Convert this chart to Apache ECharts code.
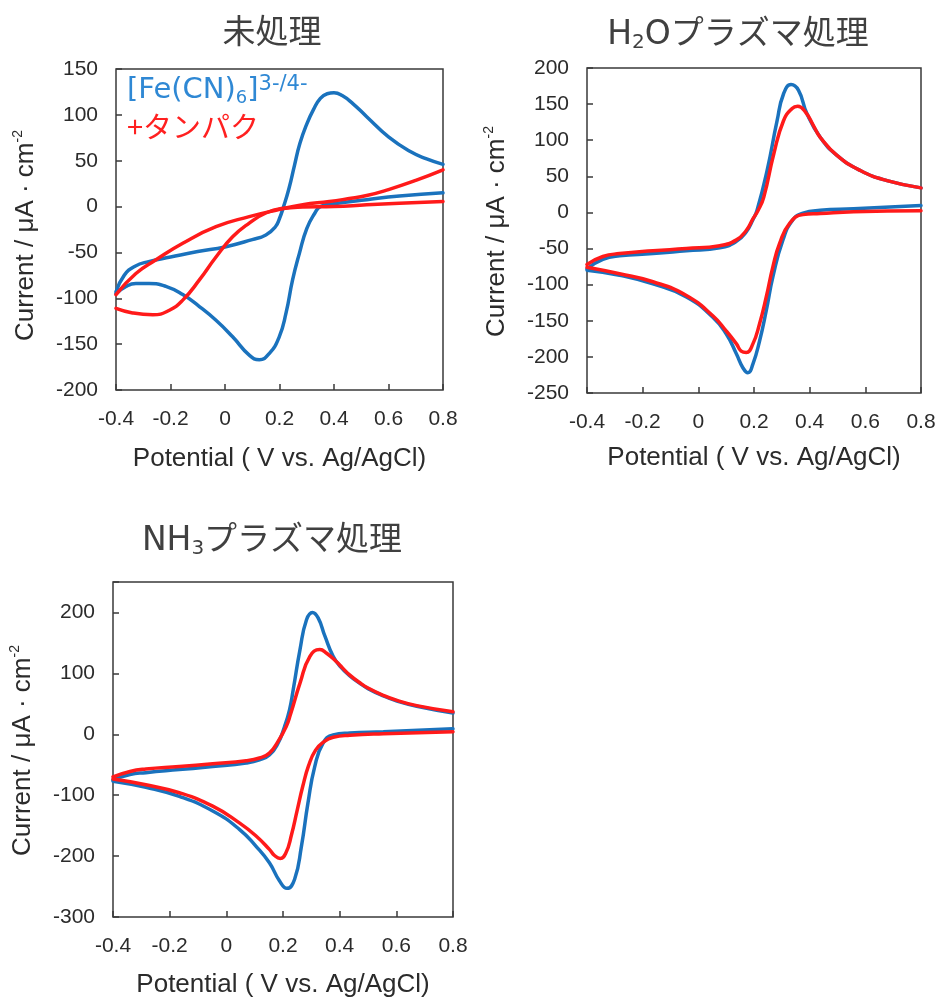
<!DOCTYPE html>
<html><head><meta charset="utf-8">
<script src="https://cdn.jsdelivr.net/npm/echarts@6/dist/echarts.min.js"></script>
<style>html,body{margin:0;padding:0;background:#fff;}#c{width:939px;height:999px;}</style>
</head><body><div id="c"></div>
<script>
// ---- tick labels ----
const xTicks = [-0.4, -0.2, 0, 0.2, 0.4, 0.6, 0.8];
const yTicks1 = [-200, -150, -100, -50, 0, 50, 100, 150];
const yTicks2 = [-250, -200, -150, -100, -50, 0, 50, 100, 150, 200];
const yTicks3 = [-300, -200, -100, 0, 100, 200];
const yAxisTop3 = 250;

// ---- titles / legend ----
const titles = ['\u672A\u51E6\u7406', 'H{s|2}O\u30D7\u30E9\u30BA\u30DE\u51E6\u7406', 'NH{s|3}\u30D7\u30E9\u30BA\u30DE\u51E6\u7406'];
const legendBlue = '[Fe(CN){s|6}]{p|3-/4-}';
const legendRed = '+\u30BF\u30F3\u30D1\u30AF';
const xName = 'Potential ( V vs. Ag/AgCl)';
const yName = 'Current / \u03BCA \u00B7 cm{p|-2}';

// ---- chart 1: 未処理 ----
const uBlueFwdE = [-0.4, -0.37, -0.33, -0.28, -0.2, -0.1, 0, 0.1, 0.15, 0.185, 0.2, 0.215, 0.235, 0.255, 0.275, 0.3, 0.325, 0.35, 0.375, 0.4, 0.43, 0.47, 0.52, 0.6, 0.68, 0.74, 0.8];
const uBlueFwdI = [-93, -75, -65, -60, -55, -49, -44, -36, -31, -22, -13, 0, 20, 45, 69, 90, 106, 118, 123, 124, 121, 112, 98, 76, 60, 52, 46];
const uBlueRevE = [0.8, 0.64, 0.52, 0.4, 0.35, 0.33, 0.3, 0.273, 0.248, 0.224, 0.199, 0.163, 0.126, 0.089, 0.028, -0.033, -0.094, -0.155, -0.217, -0.278, -0.327, -0.363, -0.4];
const uBlueRevI = [15, 11.5, 7.5, 3, 0, -7, -24, -51, -80, -116, -142, -160, -167, -162, -142, -124, -109, -96, -87, -84, -84, -87, -95];
const uRedFwdE = [-0.4, -0.327, -0.253, -0.155, -0.033, 0.089, 0.187, 0.285, 0.383, 0.45, 0.52, 0.6, 0.7, 0.8];
const uRedFwdI = [-96, -73, -58, -40, -22, -11, -4, 2, 5.5, 8.5, 12, 18.5, 28.5, 40];
const uRedRevE = [0.8, 0.64, 0.52, 0.4, 0.285, 0.212, 0.15, 0.089, 0.028, -0.033, -0.094, -0.155, -0.204, -0.265, -0.339, -0.4];
const uRedRevI = [5.5, 3.7, 2, 0, -0.5, -2, -7, -18, -33, -55, -80, -102, -113, -118, -116, -111];

// ---- chart 2: H2Oプラズマ処理 ----
const hBlueFwdE = [-0.4, -0.343, -0.283, -0.163, -0.043, 0.077, 0.137, 0.172, 0.196, 0.211, 0.247, 0.283, 0.306, 0.333, 0.36, 0.39, 0.438, 0.498, 0.582, 0.678, 0.8];
const hBlueFwdI = [-78, -65, -60, -57, -53, -49, -40, -27, -10, 3, 58, 127, 164, 177, 169, 137, 104, 79, 58, 44, 34];
const hBlueRevE = [0.8, 0.558, 0.438, 0.376, 0.34, 0.304, 0.268, 0.244, 0.22, 0.196, 0.178, 0.16, 0.137, 0.1, 0.052, -0.043, -0.163, -0.283, -0.4];
const hBlueRevI = [9.5, 5, 3, -1, -10, -38, -89, -136, -178, -210, -222, -215, -196, -168, -145, -117, -99, -87, -80];
const hRedFwdE = [-0.4, -0.343, -0.283, -0.163, -0.043, 0.077, 0.137, 0.172, 0.196, 0.215, 0.235, 0.271, 0.306, 0.337, 0.357, 0.385, 0.414, 0.438, 0.498, 0.582, 0.678, 0.8];
const hRedFwdI = [-72, -61, -57, -53, -50, -46, -38, -25, -9, 3, 21, 81, 127, 144, 147, 139, 120, 104, 79, 58, 44, 34];
const hRedRevE = [0.8, 0.558, 0.438, 0.376, 0.328, 0.292, 0.268, 0.244, 0.22, 0.196, 0.172, 0.154, 0.137, 0.1, 0.052, -0.043, -0.163, -0.283, -0.4];
const hRedRevI = [2.5, 1, -1.5, -3, -15, -43, -75, -117, -154, -182, -194, -192, -182, -164, -143, -115, -96, -85, -76];

// ---- chart 3: NH3プラズマ処理 ----
const nBlueFwdE = [-0.4, -0.34, -0.284, -0.166, -0.048, 0.07, 0.117, 0.152, 0.182, 0.205, 0.223, 0.236, 0.26, 0.283, 0.304, 0.324, 0.348, 0.377, 0.405, 0.436, 0.47, 0.5, 0.554, 0.6, 0.672, 0.8];
const nBlueFwdI = [-75, -66, -63, -58, -53, -47, -42, -34, -15, 12, 40, 73, 139, 188, 200, 191, 161, 128, 110, 96, 84, 75, 63, 55, 46, 35];
const nBlueRevE = [0.8, 0.554, 0.436, 0.377, 0.341, 0.312, 0.288, 0.265, 0.241, 0.214, 0.188, 0.152, 0.105, 0.046, -0.048, -0.166, -0.284, -0.4];
const nBlueRevI = [9, 4, 2, -1, -15, -53, -113, -184, -238, -253, -241, -211, -184, -156, -126, -102, -87, -77];
const nRedFwdE = [-0.4, -0.34, -0.284, -0.166, -0.048, 0.07, 0.117, 0.152, 0.182, 0.211, 0.226, 0.26, 0.295, 0.33, 0.354, 0.389, 0.41, 0.436, 0.47, 0.5, 0.554, 0.6, 0.672, 0.8];
const nRedFwdI = [-70, -61, -57, -53, -48.5, -43.6, -39, -31, -12, 12.5, 32, 84, 128, 139, 133, 119, 109, 97, 85, 76, 64, 56, 47, 37];
const nRedRevE = [0.8, 0.554, 0.436, 0.377, 0.345, 0.315, 0.29, 0.27, 0.25, 0.23, 0.21, 0.19, 0.17, 0.152, 0.105, 0.046, -0.048, -0.166, -0.284, -0.4];
const nRedRevI = [4, 1, -1.5, -5, -12, -26, -52, -85, -125, -165, -195, -204, -199, -189, -167, -145.5, -118, -96, -83, -73.6];

// ---- styling ----
const BLUE = '#1a72bd';
const RED = '#ff1a1a';
const AXIS_COLOR = '#3a3a3a';
const LABEL_COLOR = '#2b2b2b';
const LATIN = 'Liberation Sans';
const JP = "'DejaVu Sans', 'Noto Sans CJK JP'";
const CJK = "'Noto Sans CJK JP'";

const grids = [
  { left: 116, top: 69, width: 327, height: 321 },
  { left: 587, top: 68, width: 334, height: 325 },
  { left: 113, top: 582, width: 340, height: 336 }
];
const yTickSets = [yTicks1, yTicks2, yTicks3];
const yTops = [yTicks1[yTicks1.length - 1], yTicks2[yTicks2.length - 1], yAxisTop3];
const xNameGaps = [56, 52, 55];
const yNameGaps = [76, 76, 76];

const pair = (E, I) => E.map((e, k) => [e, I[k]]);

const chart = echarts.init(document.getElementById('c'), null, { renderer: 'canvas' });

const titleStyle = () => ({ fontFamily: JP, fontSize: 33, lineHeight: 36, fontWeight: 'normal', color: '#404040',
  rich: { s: { fontFamily: JP, fontSize: 20, lineHeight: 10, verticalAlign: 'bottom', color: '#404040' } } });

const option = {
  backgroundColor: '#ffffff',
  animation: false,
  title: [
    { text: titles[0], left: 272, top: 16, textAlign: 'center', padding: 0, textStyle: titleStyle() },
    { text: titles[1], left: 738, top: 17, textAlign: 'center', padding: 0, textStyle: titleStyle() },
    { text: titles[2], left: 272, top: 523, textAlign: 'center', padding: 0, textStyle: titleStyle() },
    { text: legendBlue, left: 127, top: 74, padding: 0,
      textStyle: { fontFamily: JP, fontSize: 29, lineHeight: 33, fontWeight: 'normal', color: '#2f88d4',
        rich: {
          s: { fontFamily: JP, fontSize: 18, lineHeight: 16, verticalAlign: 'bottom', color: '#2f88d4' },
          p: { fontFamily: JP, fontSize: 21, lineHeight: 25, verticalAlign: 'top', color: '#2f88d4' }
        } } },
    { text: legendRed, left: 127, top: 110, padding: 0,
      textStyle: { fontFamily: CJK, fontSize: 29, lineHeight: 33, fontWeight: 'normal', color: '#ff2020' } }
  ],
  grid: grids.map(g => Object.assign({ show: true, borderColor: AXIS_COLOR, borderWidth: 1.5, backgroundColor: 'transparent' }, g)),
  xAxis: grids.map((g, i) => ({
    type: 'value', gridIndex: i, position: 'bottom',
    min: xTicks[0], max: xTicks[xTicks.length - 1], interval: 0.2,
    axisLine: { show: false, onZero: false },
    axisTick: { show: true, inside: true, length: 6, lineStyle: { color: AXIS_COLOR, width: 1.5 } },
    splitLine: { show: false },
    axisLabel: { fontFamily: LATIN, fontSize: 21, color: LABEL_COLOR, margin: 19 },
    name: xName, nameLocation: 'middle', nameGap: xNameGaps[i],
    nameTextStyle: { fontFamily: LATIN, fontSize: 26, color: LABEL_COLOR }
  })),
  yAxis: grids.map((g, i) => {
    const t = yTickSets[i];
    return {
      type: 'value', gridIndex: i, position: 'left',
      min: t[0], max: yTops[i], interval: t[1] - t[0],
      axisLine: { show: false, onZero: false },
      axisTick: { show: true, inside: true, length: 6, lineStyle: { color: AXIS_COLOR, width: 1.5 } },
      splitLine: { show: false },
      axisLabel: {
        fontFamily: LATIN, fontSize: 21, color: LABEL_COLOR, margin: 18,
        formatter: v => (t.indexOf(v) >= 0 ? String(v) : '')
      },
      name: yName, nameLocation: 'middle', nameGap: yNameGaps[i], nameRotate: 90,
      nameTextStyle: { fontFamily: LATIN, fontSize: 26, color: LABEL_COLOR, padding: [0, i === 0 ? 12 : 2, 0, 0],
        rich: { p: { fontFamily: LATIN, fontSize: 14, lineHeight: 29, verticalAlign: 'top', color: LABEL_COLOR } } }
    };
  }),
  series: []
};

const sets = [
  [uBlueFwdE, uBlueFwdI, uBlueRevE, uBlueRevI, uRedFwdE, uRedFwdI, uRedRevE, uRedRevI],
  [hBlueFwdE, hBlueFwdI, hBlueRevE, hBlueRevI, hRedFwdE, hRedFwdI, hRedRevE, hRedRevI],
  [nBlueFwdE, nBlueFwdI, nBlueRevE, nBlueRevI, nRedFwdE, nRedFwdI, nRedRevE, nRedRevI]
];
const mk = (data, color, i) => ({
  type: 'line', xAxisIndex: i, yAxisIndex: i, data: data,
  smooth: 0.5, showSymbol: false, symbol: 'none', sampling: null,
  lineStyle: { color: color, width: 3.5, join: 'round', cap: 'round' }, itemStyle: { color: color }, z: 3
});
sets.forEach((s, i) => {
  option.series.push(mk(pair(s[0], s[1]), BLUE, i));
  option.series.push(mk(pair(s[2], s[3]), BLUE, i));
  option.series.push(mk(pair(s[4], s[5]), RED, i));
  option.series.push(mk(pair(s[6], s[7]), RED, i));
});

chart.setOption(option);
</script>
</body></html>
